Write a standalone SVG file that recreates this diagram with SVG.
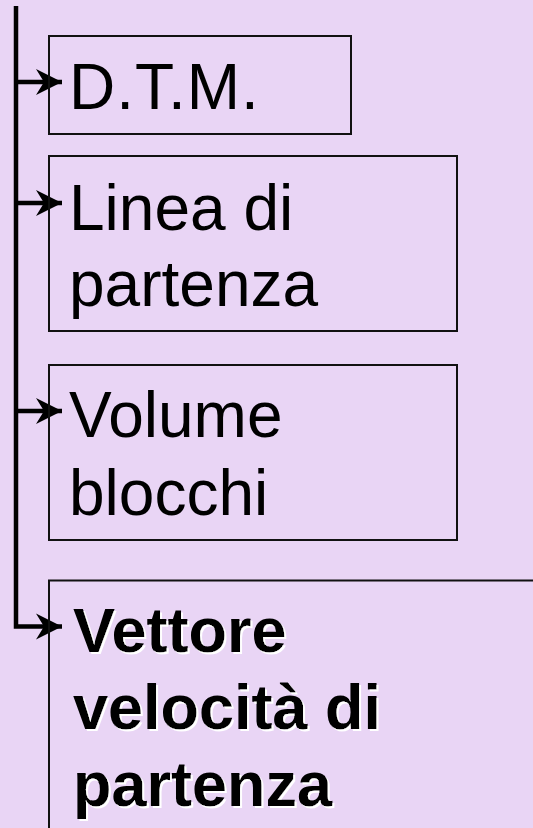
<svg xmlns="http://www.w3.org/2000/svg" width="533" height="828" viewBox="0 0 533 828">
  <style>
    .box { fill: none; stroke: #111; stroke-width: 2; }
    .lbl { font-family: "Liberation Sans", Arial, sans-serif; font-size: 64px; fill: #000; }
    .bold { font-family: "Liberation Sans", Arial, sans-serif; font-size: 63px; font-weight: bold; fill: #000; filter: url(#lift); }
    .spine { fill: none; stroke: #000; stroke-width: 4.5; stroke-linejoin: miter; }
    .arrow { fill: none; stroke: #000; stroke-width: 4.5; marker-end: url(#head); }
  </style>
  <defs>
    <marker id="head" markerUnits="userSpaceOnUse" markerWidth="32" markerHeight="30" viewBox="-30 -15 32 30" refX="0" refY="0" orient="auto" overflow="visible">
      <path d="M0,0 L-26,-13 L-18,0 L-26,13 Z" fill="#000"/>
    </marker>
    <!-- white offset copy behind the bold lettering -->
    <filter id="lift" x="-5%" y="-10%" width="110%" height="130%">
      <feFlood flood-color="#fff" result="white"/>
      <feComposite in="white" in2="SourceAlpha" operator="in" result="solid"/>
      <feOffset in="solid" dx="2" dy="2" result="shifted"/>
      <feMerge>
        <feMergeNode in="shifted"/>
        <feMergeNode in="SourceGraphic"/>
      </feMerge>
    </filter>
  </defs>

  <rect width="533" height="828" fill="#E9D5F5"/>

  <!-- connectors: vertical spine with branches into each box -->
  <g id="connectors">
    <path class="spine" d="M16,6 V626.5 H48"/>
    <line class="arrow" x1="16" y1="82" x2="62" y2="82"/>
    <line class="arrow" x1="16" y1="203" x2="62" y2="203"/>
    <line class="arrow" x1="16" y1="411" x2="62" y2="411"/>
    <line class="arrow" x1="46" y1="626.5" x2="62" y2="626.5"/>
  </g>

  <g id="dtm">
    <rect class="box" x="49" y="36" width="302" height="98"/>
    <text class="lbl" x="69" y="109" letter-spacing="1">D.T.M.</text>
  </g>

  <g id="linea">
    <rect class="box" x="49" y="156" width="408" height="175"/>
    <text class="lbl" x="69" y="230">Linea di</text>
    <text class="lbl" x="69" y="306">partenza</text>
  </g>

  <g id="volume">
    <rect class="box" x="49" y="365" width="408" height="175"/>
    <text class="lbl" x="69" y="437">Volume</text>
    <text class="lbl" x="69" y="515">blocchi</text>
  </g>

  <g id="vettore">
    <rect class="box" x="49" y="580.5" width="500" height="260"/>
    <text class="bold" x="73" y="652">Vettore</text>
    <text class="bold" x="73" y="729">velocità di</text>
    <text class="bold" x="73" y="806">partenza</text>
  </g>
</svg>
